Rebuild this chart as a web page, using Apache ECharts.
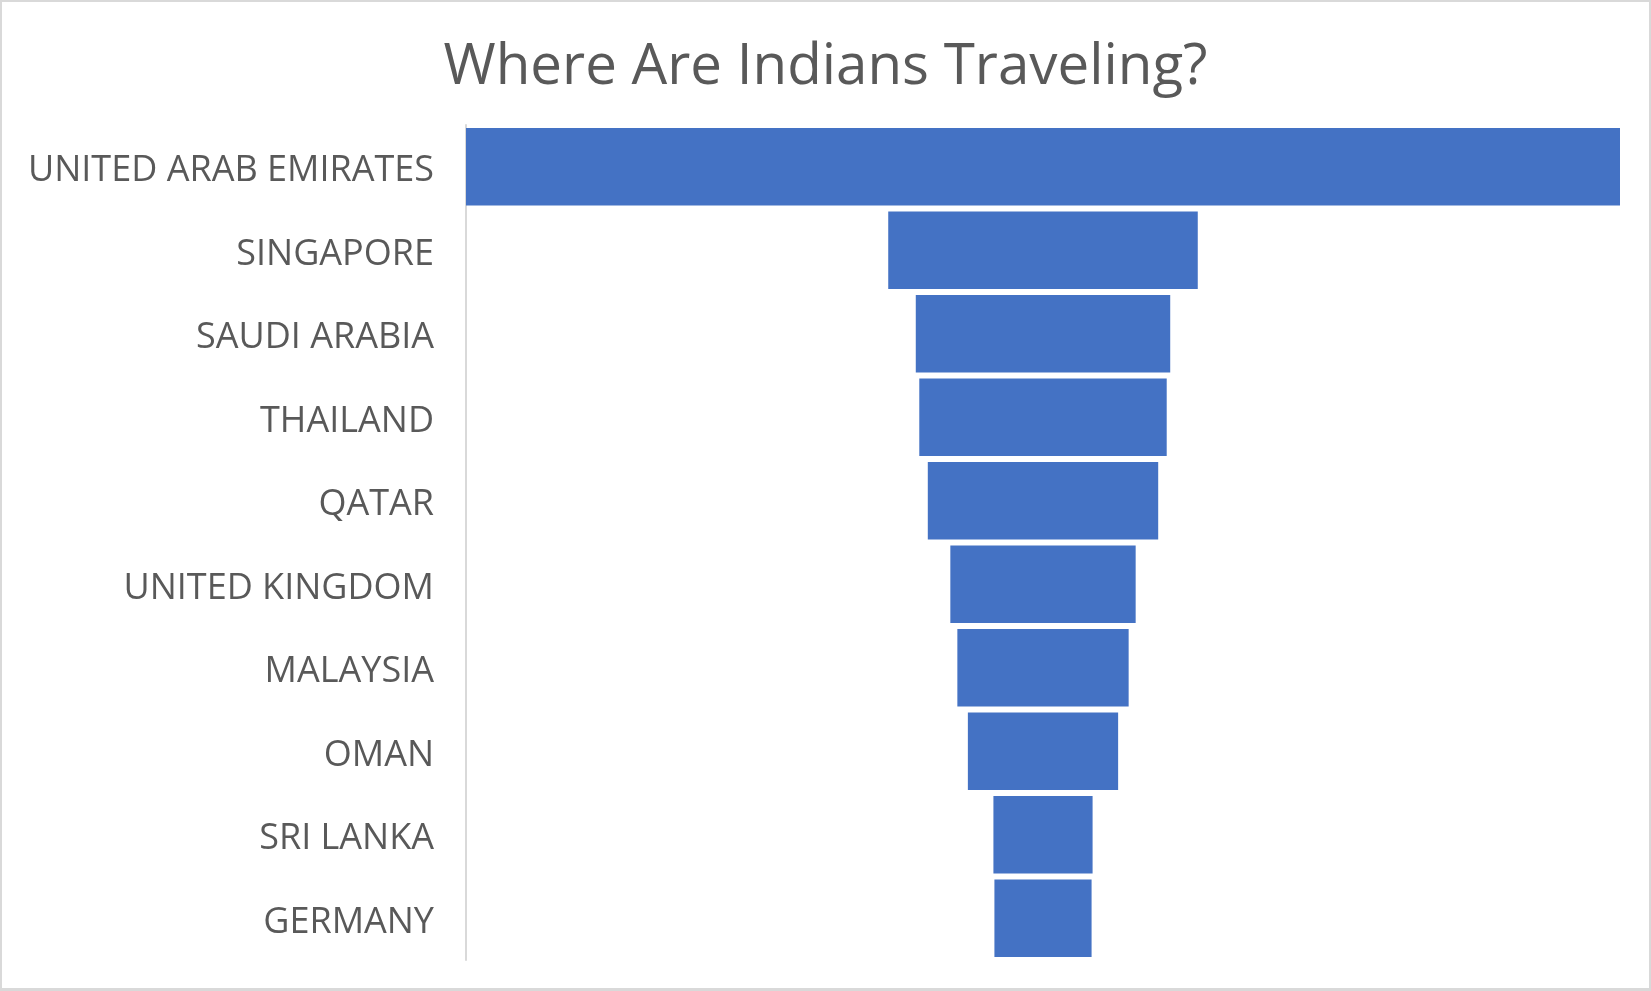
<!DOCTYPE html>
<html><head><meta charset="utf-8">
<script src="https://cdn.jsdelivr.net/npm/echarts@6/dist/echarts.min.js"></script>
<style>
html,body{margin:0;padding:0;background:#fff;}
#frame{position:absolute;left:0;top:0;width:1651px;height:991px;box-sizing:border-box;border:2px solid #d9d9d9;border-bottom-width:3px;}
#chart{position:absolute;left:0;top:0;width:1651px;height:991px;}
</style></head>
<body>
<div id="chart"></div>
<div id="frame"></div>
<script>
const categories = ["UNITED ARAB EMIRATES","SINGAPORE","SAUDI ARABIA","THAILAND","QATAR","UNITED KINGDOM","MALAYSIA","OMAN","SRI LANKA","GERMANY"];
const visitors = [1152, 309, 254, 247, 230, 185, 171, 150, 99, 97];
const title = "Where Are Indians Traveling?";

const maxV = Math.max(...visitors);
const offsets = visitors.map(v => (maxV - v) / 2);

const chart = echarts.init(document.getElementById('chart'));
chart.setOption({
  animation:false,
  backgroundColor:'#fff',
  title:{text:title,left:'center',top:34,textStyle:{fontFamily:'Open Sans',fontWeight:'normal',fontSize:56.5,color:'#595959'}},
  grid:{left:466,right:31,top:125,bottom:31,containLabel:false},
  xAxis:{type:'value',min:0,max:maxV,show:false},
  yAxis:{type:'category',data:categories,inverse:true,
    axisLine:{show:true,lineStyle:{color:'#d9d9d9',width:2}},
    axisTick:{show:false},
    axisLabel:{margin:32,color:'#595959',
      formatter:function(v){return '{c|' + v + '}';},
      rich:{c:{fontFamily:'Open Sans',fontSize:36,color:'#595959',lineHeight:40,padding:[8,0,0,0]}}}},
  series:[
    {type:'bar',stack:'f',data:offsets,itemStyle:{color:'transparent'},barCategoryGap:'7%',silent:true},
    {type:'bar',stack:'f',data:visitors,itemStyle:{color:'#4472c4'},barCategoryGap:'7%'}
  ]
});
</script>
</body></html>
